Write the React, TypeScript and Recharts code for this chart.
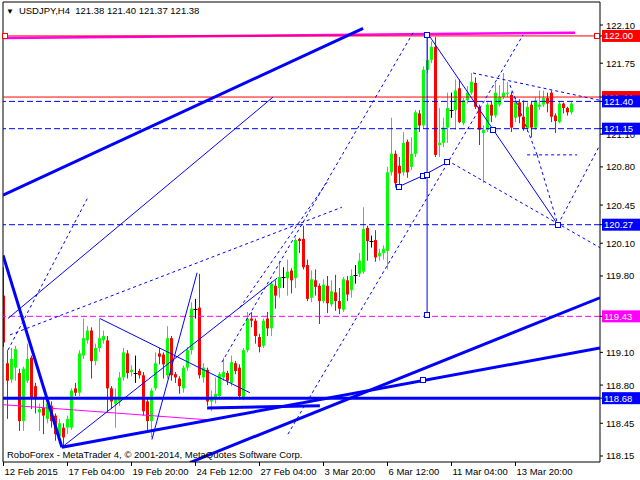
import React from 'react';
import { ComposedChart, Bar, XAxis, YAxis, ReferenceLine, ReferenceDot } from 'recharts';

const opens = [119.62,119.00,118.85,118.96,118.91,118.47,118.84,119.05,118.79,118.55,118.59,118.49,118.61,118.52,118.33,118.41,118.41,118.41,118.77,118.73,119.07,119.21,119.30,119.02,119.14,119.21,119.21,118.77,118.63,118.65,118.87,119.09,118.92,118.91,118.93,118.89,118.65,118.47,118.77,119.09,119.08,118.89,119.23,118.90,118.86,118.77,118.96,119.12,119.50,119.51,118.87,118.94,118.65,118.67,118.70,118.87,118.91,118.82,119.00,118.96,118.68,119.12,119.41,119.39,119.24,119.16,119.41,119.32,119.71,119.69,119.79,119.78,119.85,119.78,120.14,120.14,119.90,119.60,119.76,119.71,119.57,119.71,119.54,119.65,119.57,119.49,119.76,119.67,119.81,119.82,119.84,120.24,120.12,120.13,119.98,120.01,120.03,120.75,120.92,120.81,120.75,121.03,120.80,120.92,121.29,121.18,121.69,121.78,121.90,121.00,121.02,121.16,121.32,121.32,121.52,121.20,121.41,121.48,121.57,121.35,121.11,121.14,121.37,121.27,121.37,121.44,121.47,121.46,121.25,121.39,121.26,121.15,121.37,121.16,121.35,121.37,121.43,121.48,121.27,121.21,121.38,121.34,121.30];
const highs = [119.88,119.12,119.14,119.16,118.95,118.97,119.18,119.07,118.82,118.63,118.68,118.68,118.65,118.54,118.49,118.45,118.52,118.77,118.82,119.12,119.41,119.34,119.33,119.18,119.41,119.30,119.25,118.79,118.77,118.92,119.14,119.12,118.98,119.07,118.95,118.92,118.68,118.77,119.10,119.14,119.10,119.34,119.25,118.92,118.88,118.98,119.15,119.56,119.59,119.82,119.00,118.96,118.75,118.87,118.92,119.05,118.93,119.07,119.02,118.99,119.14,119.47,119.47,119.41,119.27,119.41,119.47,119.75,119.76,119.94,119.88,119.95,119.87,120.15,120.15,120.26,119.95,119.85,119.86,119.73,119.77,119.80,119.76,119.81,119.69,119.79,119.80,119.86,119.90,120.01,120.43,120.26,120.17,120.22,120.05,120.08,120.80,121.25,120.95,120.89,121.12,121.05,121.07,121.32,121.32,121.72,122.01,121.95,121.99,121.34,121.25,121.48,121.48,121.60,121.60,121.43,121.54,121.66,121.62,121.37,121.18,121.39,121.40,121.57,121.55,121.66,121.58,121.49,121.44,121.42,121.41,121.39,121.40,121.44,121.50,121.50,121.48,121.50,121.29,121.40,121.39,121.35,121.40];
const lows = [119.15,118.49,118.82,118.84,118.38,118.38,118.82,118.58,118.54,118.38,118.35,118.45,118.41,118.29,118.26,118.24,118.35,118.39,118.70,118.70,119.04,119.18,118.86,118.98,119.10,119.18,118.55,118.58,118.41,118.61,118.84,118.86,118.88,118.82,118.86,118.52,118.38,118.32,118.75,118.99,118.86,118.86,118.84,118.82,118.72,118.73,118.93,119.08,119.41,118.86,118.82,118.61,118.56,118.63,118.68,118.84,118.80,118.79,118.90,118.67,118.66,119.10,119.33,119.18,119.10,119.14,119.25,119.25,119.50,119.60,119.69,119.62,119.64,119.69,120.01,119.86,119.57,119.56,119.62,119.36,119.55,119.46,119.52,119.48,119.45,119.47,119.57,119.60,119.73,119.79,119.82,119.94,120.06,119.93,119.94,119.95,119.86,120.72,120.61,120.62,120.72,120.70,120.77,120.89,121.12,121.15,121.66,121.75,120.89,120.89,120.98,121.02,121.25,121.14,121.20,121.18,121.38,121.46,121.33,121.00,120.65,121.12,121.21,121.25,121.35,121.42,121.44,121.12,121.21,121.20,121.13,121.12,121.07,121.14,121.32,121.35,121.30,121.21,121.11,121.20,121.29,121.27,121.28];
const closes = [119.19,118.84,119.04,119.13,118.47,118.95,119.04,118.68,118.68,118.58,118.52,118.63,118.47,118.35,118.45,118.32,118.49,118.75,118.73,119.09,119.23,119.30,119.02,119.14,119.23,119.25,118.77,118.65,118.67,118.87,119.10,118.91,118.94,118.91,118.89,118.56,118.47,118.75,119.00,119.06,118.99,119.23,118.89,118.87,118.79,118.96,119.12,119.50,119.50,118.89,118.96,118.65,118.67,118.72,118.90,118.92,118.84,119.01,118.93,118.70,119.12,119.41,119.39,119.25,119.15,119.39,119.32,119.73,119.62,119.79,119.79,119.84,119.76,120.13,120.12,119.88,119.59,119.77,119.70,119.57,119.72,119.55,119.66,119.57,119.50,119.77,119.63,119.80,119.81,119.94,120.23,120.12,120.12,119.97,120.01,120.05,120.75,120.92,120.65,120.74,121.02,120.75,120.92,121.30,121.18,121.69,121.78,121.90,120.91,121.02,121.16,121.34,121.32,121.50,121.21,121.41,121.48,121.58,121.35,121.14,121.14,121.37,121.27,121.48,121.44,121.48,121.48,121.16,121.39,121.26,121.15,121.35,121.16,121.41,121.37,121.43,121.38,121.26,121.22,121.38,121.34,121.30,121.38];

const timeTickIdx = [0, 16, 32, 48, 64, 80, 96, 112, 128];
const timeLabels = ['12 Feb 2015', '17 Feb 04:00', '19 Feb 20:00', '24 Feb 12:00', '27 Feb 04:00', '3 Mar 20:00', '6 Mar 12:00', '11 Mar 04:00', '13 Mar 20:00'];
// visible price-scale ticks (121.40 and 119.45 are covered by level tags in the original)
const priceTicks = [122.10, 121.75, 121.10, 120.80, 120.45, 120.10, 119.80, 119.10, 118.80, 118.45, 118.15];

// horizontal levels
const levelPrices = [122.00, 121.44, 121.40, 121.15, 120.27, 119.43, 118.68];
const levelTags = ['122.00', '121.44', '121.40', '121.15', '120.27', '119.43', '118.68'];

// annotation lines in (bar index, price)
const thickLines = [
  [[-0.125, 120.54], [89.9, 122.07]],
  [[-0.125, 119.99], [14.6, 118.23]],
  [[14.6, 118.23], [149.1, 119.14]],
  [[50.9, 118.59], [79.1, 118.61]],
  [[46.6, 118.09], [149.1, 119.60]],
];
const thinLines = [
  [[1.1, 119.41], [67.4, 121.44]],
  [[24.1, 119.41], [61.6, 118.73]],
  [[14.6, 118.23], [68.4, 119.78]],
  [[37.1, 118.30], [48.4, 119.83]],
  [[105.9, 122.03], [138.6, 120.27]],
  [[105.9, 122.01], [105.9, 119.44]],
  [[98.9, 120.62], [104.9, 120.72]],
  [[104.9, 120.72], [110.9, 120.84]],
];
const dottedLines = [
  [[1.1, 119.12], [21.1, 120.52]],
  [[1.6, 119.26], [84.6, 120.43]],
  [[54.6, 119.01], [102.4, 122.03]],
  [[71.1, 118.35], [129.9, 122.01]],
  [[59.1, 119.51], [80.9, 120.66]],
  [[110.9, 120.86], [149.1, 120.06]],
  [[117.4, 121.66], [149.1, 121.41]],
  [[126.6, 121.55], [133.4, 120.91]],
  [[133.4, 120.91], [138.6, 120.27]],
  [[130.9, 120.91], [143.4, 120.91]],
  [[138.6, 120.27], [149.1, 121.00]],
];
const magentaThin = [[-0.1, 118.62], [51.6, 118.48]];
const magentaThick = [[-0.1, 121.98], [142.9, 122.03]];
const blueSquares = [[105.9, 122.01], [105.9, 119.44], [122.4, 121.14], [138.6, 120.27], [98.9, 120.62], [104.9, 120.72], [105.9, 120.73], [110.9, 120.84], [104.9, 118.85]];
const redSquares = [[0.4, 122.0], [148.4, 122.0]];

const data = opens.map((o, i) => ({ i, o, h: highs[i], l: lows[i], c: closes[i], range: [lows[i], highs[i]] }));

const FONT = '"Liberation Sans", Arial, sans-serif';
const BLUE = '#0000FF';
const RED = '#FF0000';
const MAG = '#FF00FF';
const GREEN = '#00FF00';

const levelStyles = [
  { stroke: RED, dash: undefined, w: 1, bg: RED },
  { stroke: RED, dash: undefined, w: 1, bg: RED },
  { stroke: BLUE, dash: '6 3', w: 1, bg: BLUE },
  { stroke: BLUE, dash: '6 3', w: 1, bg: BLUE },
  { stroke: BLUE, dash: '6 3', w: 1, bg: BLUE },
  { stroke: MAG, dash: '6 3', w: 1, bg: MAG },
  { stroke: BLUE, dash: undefined, w: 3, bg: BLUE },
];

const Candle = (props: any) => {
  const { x, y, width, height, payload } = props;
  if (x == null || payload == null) return null;
  const top = Math.min(y, y + height);
  const bot = Math.max(y, y + height);
  const { o, h, l, c } = payload;
  const py = (p: number) => top + ((h - p) / (h - l)) * (bot - top);
  const cx = Math.floor(x + width / 2) + 0.5;
  const yo = py(o);
  const yc = py(c);
  const col = c > o ? GREEN : c < o ? RED : '#000000';
  if (o === c) {
    return (
      <g>
        <line x1={cx} x2={cx} y1={top} y2={bot} stroke={col} strokeWidth={1} />
        <line x1={cx - 2} x2={cx + 2} y1={Math.round(yo) + 0.5} y2={Math.round(yo) + 0.5} stroke={col} strokeWidth={1} />
      </g>
    );
  }
  const bt = Math.min(yo, yc);
  const bh = Math.max(1, Math.abs(yo - yc));
  return (
    <g>
      <line x1={cx} x2={cx} y1={top} y2={bot} stroke={col} strokeWidth={1} />
      <rect x={cx - 1.5} y={bt} width={3} height={bh} fill={col} />
    </g>
  );
};

// price scale tick: plain number, or a coloured tag for a level line (tags listed last so they sit on top)
const PriceTick = (props: any) => {
  const { x, y, payload } = props;
  const v = Number(payload.value);
  const k = levelPrices.indexOf(v);
  if (k >= 0 && payload.index >= priceTicks.length) {
    return (
      <g>
        <rect x={x - 4} y={y - 6} width={38} height={12} fill={levelStyles[k].bg} />
        <text x={x - 2} y={y} dy={3.5} fontSize={9.5} fontFamily={FONT} fill="#FFFFFF" textAnchor="start">{levelTags[k]}</text>
      </g>
    );
  }
  return (
    <text x={x} y={y} dy={3.5} fontSize={9.5} fontFamily={FONT} fill="#000" textAnchor="start">
      {v.toFixed(2)}
    </text>
  );
};

const TimeTick = (props: any) => {
  const { x, y, payload } = props;
  const idx = timeTickIdx.indexOf(payload.value);
  return (
    <text x={x + 1} y={y} dy={7} fontSize={9.5} fontFamily={FONT} fill="#000" textAnchor="start">
      {timeLabels[idx]}
    </text>
  );
};

const seg = (s: number[][]) => [{ x: s[0][0], y: s[0][1] }, { x: s[1][0], y: s[1][1] }];

const square = (color: string) => (p: any) => (
  <rect x={Math.round(p.cx) - 2.5} y={Math.round(p.cy) - 2.5} width={5} height={5} fill="#FFFFFF" stroke={color} strokeWidth={1} />
);

export default function App() {
  return (
    <div style={{ position: 'absolute', left: 0, top: 0, width: 640, height: 480, background: '#FFFFFF', overflow: 'hidden' }}>
      <ComposedChart width={640} height={480} data={data} margin={{ top: 2, right: 0, bottom: 0, left: 3 }}>
        <XAxis
          dataKey="i"
          type="number"
          domain={[-0.125, 149.125]}
          allowDataOverflow
          ticks={timeTickIdx}
          interval={0}
          height={18}
          tickSize={4}
          tickMargin={2}
          tick={<TimeTick />}
          tickLine={{ stroke: '#000' }}
          axisLine={{ stroke: '#000' }}
        />
        <YAxis
          orientation="right"
          type="number"
          domain={[118.095, 122.311]}
          allowDataOverflow
          ticks={[...priceTicks, ...levelPrices]}
          interval={0}
          width={40}
          tickSize={3}
          tickMargin={3}
          tick={<PriceTick />}
          tickLine={{ stroke: '#000' }}
          axisLine={{ stroke: '#000' }}
        />
        <ReferenceLine x={-0.125} stroke="#000" ifOverflow="visible" />
        <ReferenceLine y={122.311} stroke="#000" ifOverflow="visible" />

        <ReferenceLine segment={seg(magentaThick)} stroke={MAG} strokeWidth={2.5} ifOverflow="hidden" />
        <ReferenceLine segment={seg(magentaThin)} stroke={MAG} strokeWidth={1} ifOverflow="hidden" />

        {levelPrices.map((p, k) => (
          <ReferenceLine
            key={'lv' + k}
            y={p}
            stroke={levelStyles[k].stroke}
            strokeWidth={levelStyles[k].w}
            strokeDasharray={levelStyles[k].dash}
            ifOverflow="visible"
          />
        ))}

        {dottedLines.map((s, k) => (
          <ReferenceLine key={'d' + k} segment={seg(s)} stroke={BLUE} strokeWidth={1} strokeDasharray="3 3" ifOverflow="hidden" />
        ))}
        {thinLines.map((s, k) => (
          <ReferenceLine key={'t' + k} segment={seg(s)} stroke={BLUE} strokeWidth={1} ifOverflow="hidden" />
        ))}
        {thickLines.map((s, k) => (
          <ReferenceLine key={'T' + k} segment={seg(s)} stroke={BLUE} strokeWidth={3} ifOverflow="hidden" />
        ))}

        <Bar dataKey="range" barSize={3} isAnimationActive={false} shape={(p: any) => <Candle {...p} />} />

        {blueSquares.map((s, k) => (
          <ReferenceDot key={'bs' + k} x={s[0]} y={s[1]} r={3} ifOverflow="visible" shape={square(BLUE)} />
        ))}
        {redSquares.map((s, k) => (
          <ReferenceDot key={'rs' + k} x={s[0]} y={s[1]} r={3} ifOverflow="visible" shape={square(RED)} />
        ))}
      </ComposedChart>
      <div style={{ position: 'absolute', left: 6, top: 4, fontFamily: FONT, fontSize: 9.5, lineHeight: '14px', whiteSpace: 'pre', color: '#000' }}>
        <span style={{ fontSize: 8, marginRight: 5 }}>▼</span>USDJPY,H4  121.38 121.40 121.37 121.38
      </div>
      <div style={{ position: 'absolute', left: 7, top: 448, fontFamily: FONT, fontSize: 9.5, lineHeight: '14px', whiteSpace: 'pre', color: '#000' }}>
        RoboForex - MetaTrader 4, © 2001-2014, MetaQuotes Software Corp.
      </div>
    </div>
  );
}
